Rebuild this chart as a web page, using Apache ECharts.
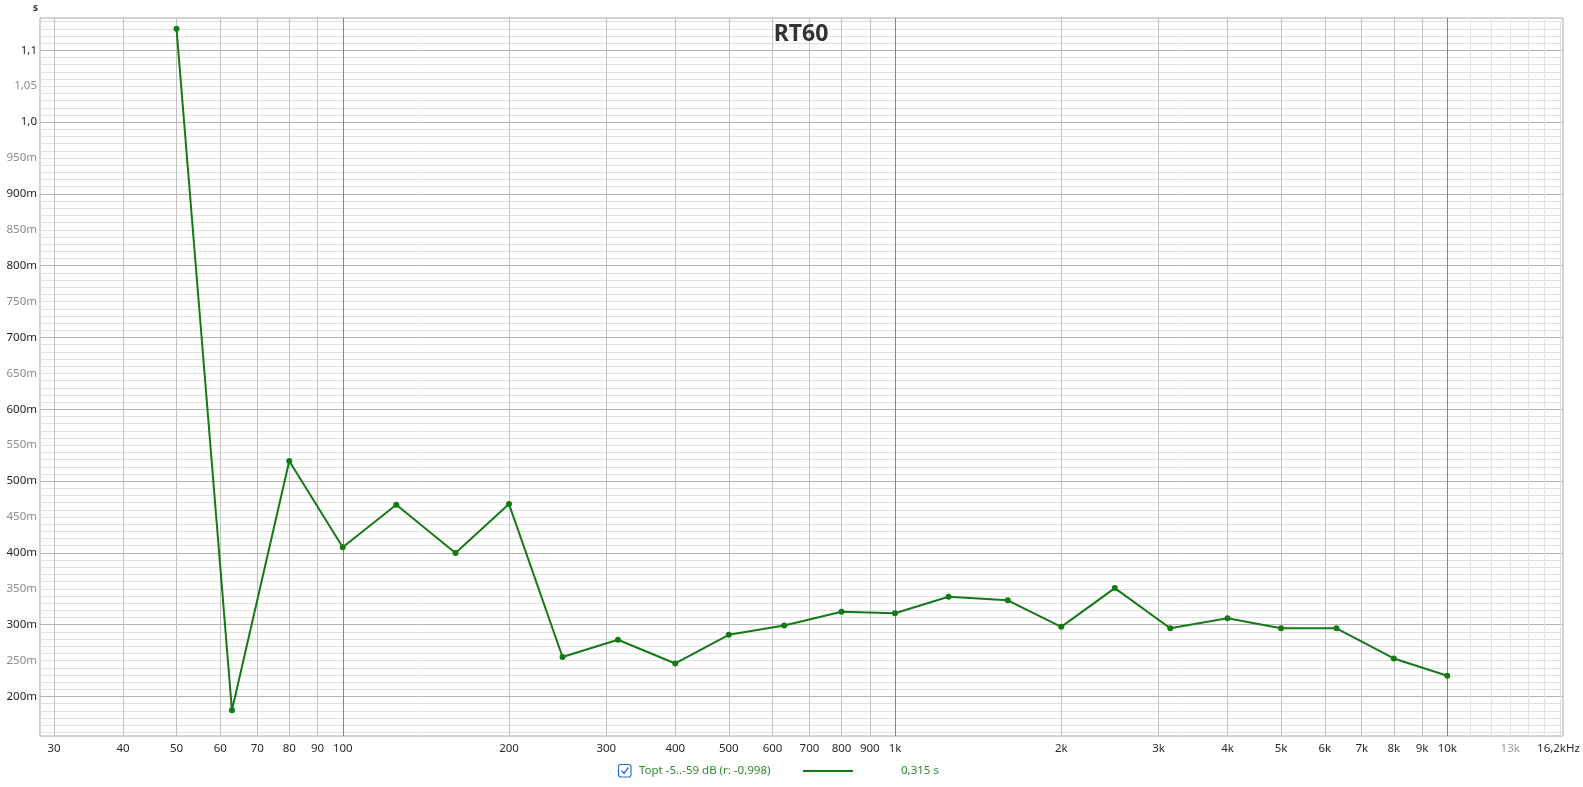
<!DOCTYPE html>
<html>
<head>
<meta charset="utf-8">
<script src="https://cdn.jsdelivr.net/npm/echarts@6/dist/echarts.min.js"></script>
<style>
html,body{margin:0;padding:0;background:#fff;}
#chart{width:1583px;height:787px;}
</style>
</head>
<body>
<div id="chart"></div>
<script>
// ---- data ----
const freqs = [50, 63, 80, 100, 125, 160, 200, 250, 315, 400, 500, 630, 800, 1000, 1250, 1600, 2000, 2500, 3150, 4000, 5000, 6300, 8000, 10000];
const rt60 = [1.130, 0.181, 0.528, 0.408, 0.467, 0.400, 0.468, 0.255, 0.279, 0.246, 0.286, 0.299, 0.318, 0.316, 0.339, 0.334, 0.297, 0.351, 0.295, 0.309, 0.295, 0.295, 0.253, 0.229];
const xTickLabels = [30, 40, 50, 60, 70, 80, 90, 100, 200, 300, 400, 500, 600, 700, 800, 900, 1000, 2000, 3000, 4000, 5000, 6000, 7000, 8000, 9000, 10000, 13000, 16200];
const xGridMid = [30, 40, 50, 60, 70, 80, 90, 200, 300, 400, 500, 600, 700, 800, 900, 2000, 3000, 4000, 5000, 6000, 7000, 8000, 9000];
const xGridMajor = [100, 1000, 10000];
const xGridLight = [11000, 12000, 13000, 14000, 15000, 16000];
const yTickLabels = [0.2, 0.25, 0.3, 0.35, 0.4, 0.45, 0.5, 0.55, 0.6, 0.65, 0.7, 0.75, 0.8, 0.85, 0.9, 0.95, 1.0, 1.05, 1.1];
const yGridMajor = [0.2, 0.3, 0.4, 0.5, 0.6, 0.7, 0.8, 0.9, 1.0, 1.1];
const yGridMinor = [];
for (let i = 15; i <= 114; i++) { if (i % 10 !== 0) yGridMinor.push(i / 100); }

const X_MIN = 28.3, X_MAX = 16200;
const Y_MIN = 0.145, Y_MAX = 1.145;
const FONT = '"Noto Sans", "Open Sans", sans-serif';
const lg = v => Math.log10(v);

function fmtHz(v) {
  const f = Math.round(Math.pow(10, v));
  if (f >= 16000) return '{e|16,2kHz}';
  if (f >= 1000) return Math.round(f / 1000) + 'k';
  return String(f);
}
function fmtS(v) {
  const r = Math.round(v * 1000);
  if (r >= 1000) {
    const s = (r / 1000).toFixed(r % 100 === 0 ? 1 : 2);
    return s.replace('.', ',');
  }
  return r + 'm';
}

const baseX = (extra) => Object.assign({
  type: 'value', min: lg(X_MIN), max: lg(X_MAX), position: 'bottom',
  axisLine: {show: false}, axisTick: {show: false}, axisLabel: {show: false},
  splitLine: {show: false}
}, extra);
const baseY = (extra) => Object.assign({
  type: 'value', min: Y_MIN, max: Y_MAX, position: 'left',
  axisLine: {show: false}, axisTick: {show: false}, axisLabel: {show: false},
  splitLine: {show: false}
}, extra);

const chart = echarts.init(document.getElementById('chart'), null, {renderer: 'canvas'});
chart.setOption({
  animation: false,
  backgroundColor: '#ffffff',
  grid: {left: 40, right: 20, top: 18, bottom: 51, show: true, borderColor: '#a8a8a8', borderWidth: 1,
    backgroundColor: 'transparent', containLabel: false, outerBoundsMode: 'none'},
  xAxis: [
    {type: 'log', min: X_MIN, max: X_MAX, position: 'bottom', axisLine: {show: false}, axisTick: {show: false}, axisLabel: {show: false}, splitLine: {show: false}, minorSplitLine: {show: false}},
    baseX({axisTick: {show: false, customValues: xGridLight.map(lg)}, splitLine: {show: true, lineStyle: {color: '#e2e2e2', width: 1}}}),
    baseX({axisTick: {show: false, customValues: xGridMid.map(lg)}, splitLine: {show: true, lineStyle: {color: '#c2c2c2', width: 1}}}),
    baseX({axisTick: {show: false, customValues: xGridMajor.map(lg)}, splitLine: {show: true, lineStyle: {color: '#858585', width: 1}}}),
    baseX({axisTick: {show: false, customValues: xTickLabels.map(lg)},
      axisLabel: {show: true, customValues: xTickLabels.map(lg), formatter: fmtHz, margin: 7, fontFamily: FONT, fontSize: 11.5,
        hideOverlap: false, showMinLabel: true, showMaxLabel: true,
        rich: {e: {fontFamily: FONT, fontSize: 11.5, color: '#2a2a2a', padding: [0, 9, 0, 0]}},
        color: (v) => Math.round(Math.pow(10, v)) === 13000 ? '#9a9a9a' : '#2a2a2a'}})
  ],
  yAxis: [
    baseY({axisTick: {show: false, customValues: yTickLabels},
      axisLabel: {show: true, customValues: yTickLabels, formatter: fmtS, margin: 3, fontFamily: FONT, fontSize: 11.5,
        hideOverlap: false,
        color: (v) => (Math.round(v * 100) % 10 === 0) ? '#1e1e1e' : '#8c8c8c'}}),
    baseY({axisTick: {show: false, customValues: yGridMinor}, splitLine: {show: true, lineStyle: {color: '#e0e0e0', width: 1}}}),
    baseY({axisTick: {show: false, customValues: yGridMajor}, splitLine: {show: true, lineStyle: {color: '#b4b4b4', width: 1}}})
  ],
  graphic: [
    {type: 'text', z: 100, x: 801, y: 34, style: {text: 'RT60', font: 'bold 23px ' + FONT, fill: '#333333', align: 'center', verticalAlign: 'middle'}},
    {type: 'text', z: 100, x: 33, y: 3, style: {text: 's', font: 'bold 10px ' + FONT, fill: '#333'}},
    {type: 'rect', z: 100, shape: {x: 618.5, y: 764.5, width: 12.5, height: 12.5, r: 2.5}, style: {fill: '#fff', stroke: '#2b6fc4', lineWidth: 1.2}},
    {type: 'polyline', z: 101, shape: {points: [[621.5, 770.8], [624, 773.5], [628.4, 767.5]]}, style: {fill: null, stroke: '#2b6fc4', lineWidth: 1.4}},
    {type: 'text', z: 100, x: 639, y: 771, style: {text: 'Topt -5..-59 dB (r: -0,998)', font: '11.5px ' + FONT, fill: '#2f8a2f', verticalAlign: 'middle'}},
    {type: 'line', z: 100, shape: {x1: 803, y1: 771, x2: 853, y2: 771}, style: {stroke: '#137a13', lineWidth: 2}},
    {type: 'text', z: 100, x: 901, y: 771, style: {text: '0,315 s', font: '11.5px ' + FONT, fill: '#2f8a2f', verticalAlign: 'middle'}}
  ],
  series: [{
    type: 'line', xAxisIndex: 0, yAxisIndex: 0,
    data: freqs.map((f, i) => [f, rt60[i]]),
    symbol: 'circle', symbolSize: 6,
    lineStyle: {color: '#157a15', width: 2},
    itemStyle: {color: '#157a15'},
    z: 10
  }]
});
</script>
</body>
</html>
